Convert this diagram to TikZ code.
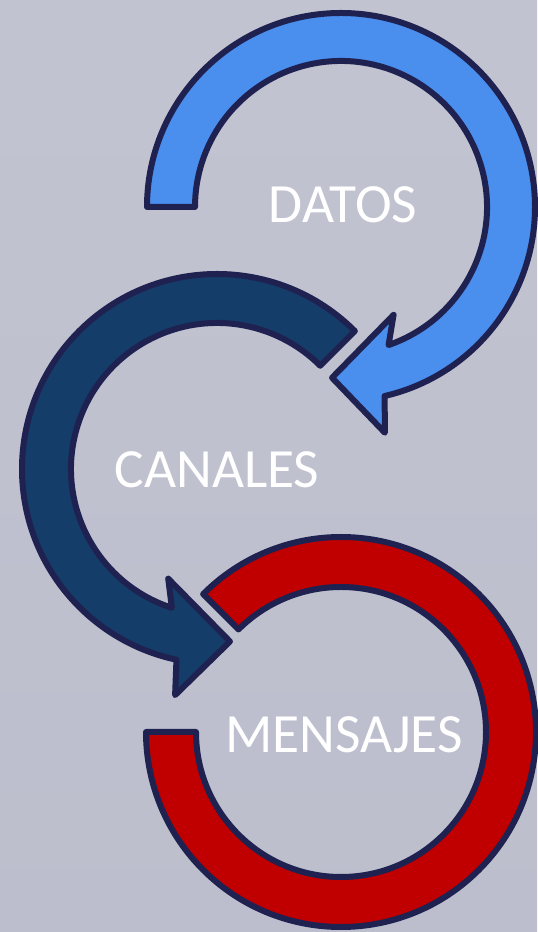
\documentclass[tikz,border=0pt]{standalone}
\usepackage{fontspec}
\newfontfamily\labelfont{Carlito}
\usetikzlibrary{calc}
\usetikzlibrary{positioning}
\definecolor{bgtop}{HTML}{C5C6D3}
\definecolor{bgmid}{HTML}{BCBDCC}
\definecolor{bgbot}{HTML}{9A9BAF}
\definecolor{contorno}{HTML}{1F2150}
\definecolor{azulclaro}{HTML}{4A8EEE}
\definecolor{azuloscuro}{HTML}{143D69}
\definecolor{rojo}{HTML}{C00000}
\pgfdeclareverticalshading{fondo}{100bp}{color(0bp)=(bgbot); color(14bp)=(bgmid); color(100bp)=(bgtop)}
\tikzset{
    flecha/.style = {draw=contorno, line width=0.12cm, line join=round},
    fl_c/.style = {flecha, fill=azulclaro},% flecha clara
    fl_o/.style = {flecha, fill=azuloscuro},% flecha oscura
    fl_r/.style = {flecha, fill=rojo},% anillo rojo
    etiqueta/.style = {text=white, inner sep=0pt, anchor=base,
        font=\labelfont\fontsize{31.5}{38}\selectfont},
}
\begin{document}
\begin{tikzpicture}[x=0.02cm, y=0.02cm]
\useasboundingbox (0,0) rectangle (537,932);
\fill[shading=fondo] (0,0) rectangle (537,932);
\coordinate (cd) at (341,725);
\coordinate (cc) at (217,463);
\coordinate (cm) at (341,200);
% DATOS
\draw[fl_c] ($(cd)+(180:194)$) arc[start angle=180, end angle=-77, radius=194]
    -- ($(cd)+(-79:230)$) -- ($(cd)+(-93:171)$) -- ($(cd)+(-64:120)$)
    -- ($(cd)+(-71:146)$) arc[start angle=-71, end angle=180, radius=146] -- cycle;
% MENSAJES
\draw[fl_r] ($(cm)+(135:195)$) arc[start angle=135, end angle=-180, radius=195]
    -- ($(cm)+(180:145)$) arc[start angle=-180, end angle=135, radius=145] -- cycle;
% CANALES
\draw[fl_o] ($(cc)+(45:195)$) arc[start angle=45, end angle=258, radius=195]
    -- ($(cc)+(259.5:230)$) -- ($(cc)+(274.3:173)$) -- ($(cc)+(246:120)$)
    -- ($(cc)+(252:146)$) arc[start angle=252, end angle=45, radius=146] -- cycle;
\node[etiqueta] (datos) at (343,709) {DATOS};
\node[etiqueta] (canales) at (217,444) {CANALES};
\node[etiqueta] (mensajes) at (344,179) {MENSAJES};
\end{tikzpicture}
\end{document}
